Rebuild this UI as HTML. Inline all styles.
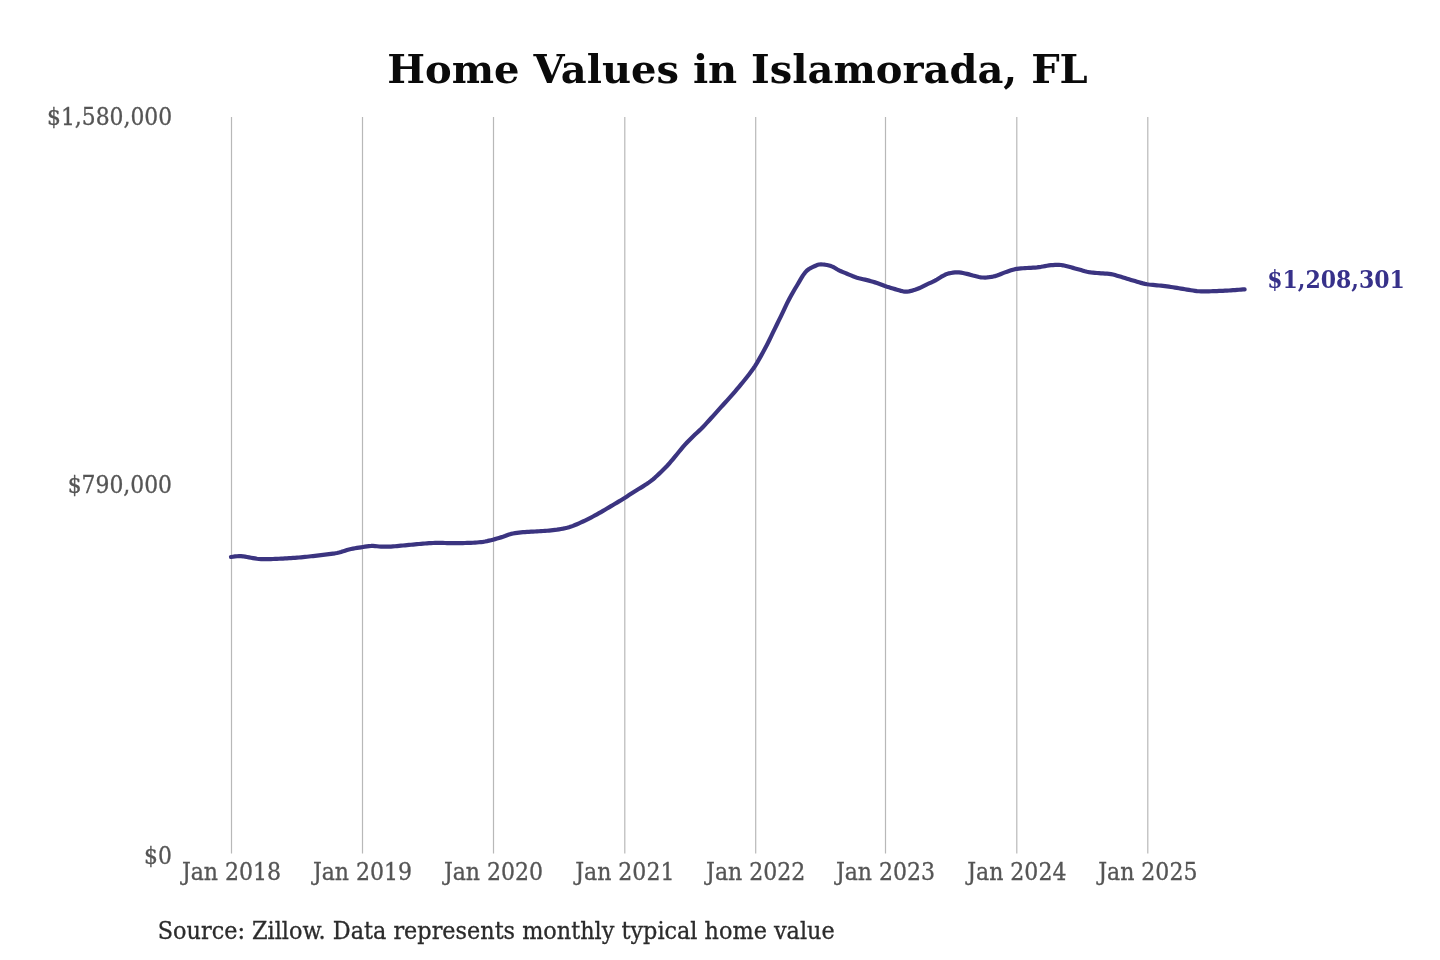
<!DOCTYPE html>
<html><head><meta charset="utf-8"><title>Home Values in Islamorada, FL</title>
<style>
html,body{margin:0;padding:0;background:#fff;}
body{width:1440px;height:960px;overflow:hidden;position:relative;}
svg{position:absolute;left:0;top:0;display:block;will-change:transform;filter:blur(0.35px);}
.t{font-family:"DejaVu Serif","Liberation Serif",serif;font-weight:bold;font-size:40px;fill:#0a0a0a;}
.ax{font-family:"DejaVu Serif Condensed","DejaVu Serif","Liberation Serif",serif;font-size:24.5px;fill:#555555;stroke:#555555;stroke-width:0.3px;}
.ay{font-size:24.3px;}
.src{font-family:"DejaVu Serif Condensed","DejaVu Serif","Liberation Serif",serif;font-size:24.85px;fill:#2b2b2b;stroke:#2b2b2b;stroke-width:0.3px;}
.val{font-family:"DejaVu Serif Condensed","DejaVu Serif","Liberation Serif",serif;font-weight:bold;font-size:24.45px;fill:#37318a;}
.grid line{stroke:#b8b8b8;stroke-width:1.2;}
</style></head>
<body>
<svg width="1440" height="960" viewBox="0 0 1440 960">
<text class="t" x="737.5" y="82.9" text-anchor="middle">Home Values in Islamorada, FL</text>
<g class="grid">
<line x1="231.5" y1="117" x2="231.5" y2="853.5"/>
<line x1="362.5" y1="117" x2="362.5" y2="853.5"/>
<line x1="493.5" y1="117" x2="493.5" y2="853.5"/>
<line x1="624.8" y1="117" x2="624.8" y2="853.5"/>
<line x1="755.7" y1="117" x2="755.7" y2="853.5"/>
<line x1="885.5" y1="117" x2="885.5" y2="853.5"/>
<line x1="1016.8" y1="117" x2="1016.8" y2="853.5"/>
<line x1="1147.8" y1="117" x2="1147.8" y2="853.5"/>
</g>
<g class="ax ay" text-anchor="end">
<text x="172.2" y="124.9">$1,580,000</text>
<text x="172" y="492.6">$790,000</text>
<text x="171.8" y="863.7">$0</text>
</g>
<g class="ax" text-anchor="middle">
<text x="231.5" y="879.6">Jan 2018</text>
<text x="362.5" y="879.6">Jan 2019</text>
<text x="493.5" y="879.6">Jan 2020</text>
<text x="624.8" y="879.6">Jan 2021</text>
<text x="755.7" y="879.6">Jan 2022</text>
<text x="885.5" y="879.6">Jan 2023</text>
<text x="1016.8" y="879.6">Jan 2024</text>
<text x="1147.8" y="879.6">Jan 2025</text>
</g>
<path transform="translate(0,0.4)" d="M231.0,556.58 L233.0,556.32 L235.0,556.04 L237.0,555.85 L239.0,555.75 L241.0,555.75 L243.0,555.89 L245.0,556.19 L247.0,556.58 L249.0,556.99 L251.0,557.36 L253.0,557.70 L255.0,558.04 L257.0,558.36 L259.0,558.61 L261.0,558.75 L263.0,558.79 L265.0,558.77 L267.0,558.74 L269.0,558.69 L271.0,558.64 L273.0,558.58 L275.0,558.52 L277.0,558.45 L279.0,558.37 L281.0,558.28 L283.0,558.18 L285.0,558.06 L287.0,557.95 L289.0,557.82 L291.0,557.69 L293.0,557.56 L295.0,557.41 L297.0,557.25 L299.0,557.08 L301.0,556.91 L303.0,556.72 L305.0,556.53 L307.0,556.33 L309.0,556.11 L311.0,555.88 L313.0,555.64 L315.0,555.40 L317.0,555.16 L319.0,554.92 L321.0,554.69 L323.0,554.46 L325.0,554.24 L327.0,554.01 L329.0,553.77 L331.0,553.51 L333.0,553.23 L335.0,552.91 L337.0,552.54 L339.0,552.11 L341.0,551.60 L343.0,550.97 L345.0,550.25 L347.0,549.58 L349.0,549.04 L351.0,548.60 L353.0,548.21 L355.0,547.85 L357.0,547.52 L359.0,547.20 L361.0,546.90 L363.0,546.60 L365.0,546.29 L367.0,545.98 L369.0,545.73 L371.0,545.57 L373.0,545.56 L375.0,545.67 L377.0,545.87 L379.0,546.07 L381.0,546.22 L383.0,546.28 L385.0,546.28 L387.0,546.25 L389.0,546.20 L391.0,546.13 L393.0,546.02 L395.0,545.87 L397.0,545.70 L399.0,545.51 L401.0,545.31 L403.0,545.13 L405.0,544.94 L407.0,544.75 L409.0,544.55 L411.0,544.34 L413.0,544.14 L415.0,543.94 L417.0,543.75 L419.0,543.58 L421.0,543.42 L423.0,543.27 L425.0,543.11 L427.0,542.95 L429.0,542.81 L431.0,542.68 L433.0,542.59 L435.0,542.53 L437.0,542.51 L439.0,542.51 L441.0,542.54 L443.0,542.57 L445.0,542.60 L447.0,542.63 L449.0,542.66 L451.0,542.69 L453.0,542.70 L455.0,542.70 L457.0,542.69 L459.0,542.67 L461.0,542.65 L463.0,542.63 L465.0,542.59 L467.0,542.56 L469.0,542.52 L471.0,542.46 L473.0,542.37 L475.0,542.24 L477.0,542.08 L479.0,541.88 L481.0,541.67 L483.0,541.42 L485.0,541.10 L487.0,540.71 L489.0,540.26 L491.0,539.77 L493.0,539.27 L495.0,538.75 L497.0,538.19 L499.0,537.60 L501.0,536.98 L503.0,536.33 L505.0,535.62 L507.0,534.85 L509.0,534.11 L511.0,533.51 L513.0,533.08 L515.0,532.74 L517.0,532.46 L519.0,532.21 L521.0,531.99 L523.0,531.81 L525.0,531.64 L527.0,531.51 L529.0,531.39 L531.0,531.28 L533.0,531.18 L535.0,531.08 L537.0,530.98 L539.0,530.86 L541.0,530.73 L543.0,530.60 L545.0,530.46 L547.0,530.32 L549.0,530.16 L551.0,529.99 L553.0,529.79 L555.0,529.56 L557.0,529.30 L559.0,528.99 L561.0,528.65 L563.0,528.27 L565.0,527.84 L567.0,527.38 L569.0,526.85 L571.0,526.21 L573.0,525.48 L575.0,524.67 L577.0,523.81 L579.0,522.91 L581.0,522.01 L583.0,521.10 L585.0,520.16 L587.0,519.19 L589.0,518.18 L591.0,517.15 L593.0,516.09 L595.0,515.02 L597.0,513.93 L599.0,512.80 L601.0,511.66 L603.0,510.49 L605.0,509.31 L607.0,508.12 L609.0,506.94 L611.0,505.76 L613.0,504.58 L615.0,503.41 L617.0,502.22 L619.0,501.02 L621.0,499.81 L623.0,498.58 L625.0,497.31 L627.0,496.02 L629.0,494.70 L631.0,493.38 L633.0,492.08 L635.0,490.82 L637.0,489.60 L639.0,488.41 L641.0,487.21 L643.0,485.98 L645.0,484.69 L647.0,483.37 L649.0,481.98 L651.0,480.50 L653.0,478.90 L655.0,477.17 L657.0,475.34 L659.0,473.45 L661.0,471.54 L663.0,469.61 L665.0,467.62 L667.0,465.56 L669.0,463.39 L671.0,461.09 L673.0,458.70 L675.0,456.27 L677.0,453.83 L679.0,451.38 L681.0,448.93 L683.0,446.53 L685.0,444.24 L687.0,442.09 L689.0,440.04 L691.0,438.05 L693.0,436.10 L695.0,434.20 L697.0,432.34 L699.0,430.48 L701.0,428.56 L703.0,426.55 L705.0,424.45 L707.0,422.29 L709.0,420.09 L711.0,417.87 L713.0,415.65 L715.0,413.44 L717.0,411.23 L719.0,409.02 L721.0,406.80 L723.0,404.58 L725.0,402.38 L727.0,400.18 L729.0,397.98 L731.0,395.76 L733.0,393.50 L735.0,391.19 L737.0,388.83 L739.0,386.44 L741.0,384.02 L743.0,381.59 L745.0,379.14 L747.0,376.65 L749.0,374.09 L751.0,371.42 L753.0,368.63 L755.0,365.66 L757.0,362.44 L759.0,359.00 L761.0,355.45 L763.0,351.84 L765.0,348.16 L767.0,344.35 L769.0,340.34 L771.0,336.20 L773.0,332.02 L775.0,327.90 L777.0,323.84 L779.0,319.78 L781.0,315.64 L783.0,311.39 L785.0,307.12 L787.0,303.02 L789.0,299.13 L791.0,295.40 L793.0,291.82 L795.0,288.40 L797.0,285.07 L799.0,281.71 L801.0,278.26 L803.0,274.98 L805.0,272.25 L807.0,270.15 L809.0,268.64 L811.0,267.52 L813.0,266.57 L815.0,265.59 L817.0,264.66 L819.0,264.10 L821.0,263.99 L823.0,264.10 L825.0,264.31 L827.0,264.61 L829.0,265.05 L831.0,265.66 L833.0,266.52 L835.0,267.64 L837.0,268.84 L839.0,269.90 L841.0,270.83 L843.0,271.69 L845.0,272.52 L847.0,273.35 L849.0,274.18 L851.0,275.02 L853.0,275.83 L855.0,276.58 L857.0,277.25 L859.0,277.82 L861.0,278.32 L863.0,278.78 L865.0,279.23 L867.0,279.71 L869.0,280.23 L871.0,280.78 L873.0,281.36 L875.0,281.97 L877.0,282.61 L879.0,283.31 L881.0,284.06 L883.0,284.85 L885.0,285.60 L887.0,286.30 L889.0,286.95 L891.0,287.58 L893.0,288.17 L895.0,288.74 L897.0,289.31 L899.0,289.90 L901.0,290.47 L903.0,290.92 L905.0,291.18 L907.0,291.19 L909.0,290.95 L911.0,290.52 L913.0,289.96 L915.0,289.34 L917.0,288.66 L919.0,287.86 L921.0,286.93 L923.0,285.92 L925.0,284.90 L927.0,283.93 L929.0,283.04 L931.0,282.16 L933.0,281.26 L935.0,280.24 L937.0,279.07 L939.0,277.79 L941.0,276.55 L943.0,275.43 L945.0,274.40 L947.0,273.54 L949.0,272.94 L951.0,272.56 L953.0,272.27 L955.0,272.06 L957.0,271.95 L959.0,272.00 L961.0,272.23 L963.0,272.60 L965.0,273.03 L967.0,273.49 L969.0,274.00 L971.0,274.55 L973.0,275.11 L975.0,275.62 L977.0,276.10 L979.0,276.55 L981.0,276.92 L983.0,277.12 L985.0,277.13 L987.0,277.01 L989.0,276.78 L991.0,276.50 L993.0,276.16 L995.0,275.73 L997.0,275.14 L999.0,274.39 L1001.0,273.57 L1003.0,272.75 L1005.0,271.99 L1007.0,271.28 L1009.0,270.59 L1011.0,269.93 L1013.0,269.31 L1015.0,268.77 L1017.0,268.39 L1019.0,268.15 L1021.0,267.98 L1023.0,267.84 L1025.0,267.72 L1027.0,267.61 L1029.0,267.52 L1031.0,267.43 L1033.0,267.32 L1035.0,267.18 L1037.0,266.97 L1039.0,266.70 L1041.0,266.40 L1043.0,266.05 L1045.0,265.68 L1047.0,265.32 L1049.0,265.02 L1051.0,264.80 L1053.0,264.65 L1055.0,264.53 L1057.0,264.45 L1059.0,264.44 L1061.0,264.58 L1063.0,264.92 L1065.0,265.39 L1067.0,265.90 L1069.0,266.40 L1071.0,266.91 L1073.0,267.45 L1075.0,268.00 L1077.0,268.56 L1079.0,269.11 L1081.0,269.68 L1083.0,270.26 L1085.0,270.81 L1087.0,271.29 L1089.0,271.67 L1091.0,271.96 L1093.0,272.20 L1095.0,272.41 L1097.0,272.60 L1099.0,272.76 L1101.0,272.91 L1103.0,273.03 L1105.0,273.14 L1107.0,273.27 L1109.0,273.43 L1111.0,273.70 L1113.0,274.10 L1115.0,274.64 L1117.0,275.24 L1119.0,275.85 L1121.0,276.46 L1123.0,277.06 L1125.0,277.68 L1127.0,278.30 L1129.0,278.90 L1131.0,279.50 L1133.0,280.10 L1135.0,280.71 L1137.0,281.32 L1139.0,281.92 L1141.0,282.48 L1143.0,283.00 L1145.0,283.45 L1147.0,283.82 L1149.0,284.12 L1151.0,284.35 L1153.0,284.55 L1155.0,284.73 L1157.0,284.91 L1159.0,285.09 L1161.0,285.30 L1163.0,285.52 L1165.0,285.77 L1167.0,286.02 L1169.0,286.29 L1171.0,286.57 L1173.0,286.85 L1175.0,287.15 L1177.0,287.48 L1179.0,287.82 L1181.0,288.18 L1183.0,288.54 L1185.0,288.89 L1187.0,289.22 L1189.0,289.52 L1191.0,289.83 L1193.0,290.14 L1195.0,290.43 L1197.0,290.68 L1199.0,290.87 L1201.0,290.97 L1203.0,290.99 L1205.0,290.97 L1207.0,290.93 L1209.0,290.88 L1211.0,290.83 L1213.0,290.77 L1215.0,290.71 L1217.0,290.64 L1219.0,290.57 L1221.0,290.49 L1223.0,290.40 L1225.0,290.30 L1227.0,290.20 L1229.0,290.08 L1231.0,289.96 L1233.0,289.81 L1235.0,289.65 L1237.0,289.49 L1239.0,289.33 L1241.0,289.17 L1243.0,289.03 L1244.6,288.93 L1244.6,288.93" fill="none" stroke="#3b3480" stroke-width="4.2" stroke-linecap="round" stroke-linejoin="round"/>
<text class="val" x="1267.2" y="287.6">$1,208,301</text>
<text class="src" x="157.8" y="938.8">Source: Zillow. Data represents monthly typical home value</text>
</svg>
</body></html>
